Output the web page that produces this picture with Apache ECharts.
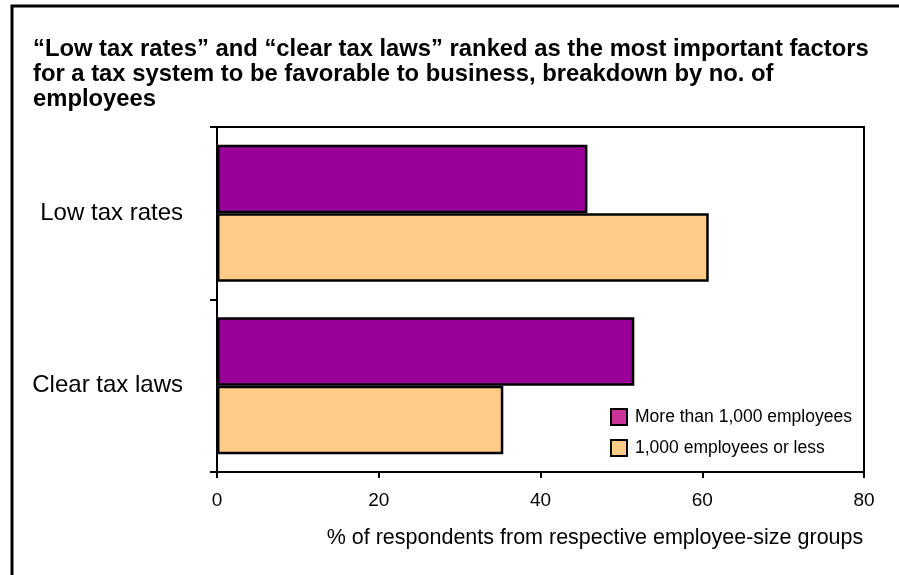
<!DOCTYPE html>
<html lang="en">
<head>
  <meta charset="UTF-8">
  <title>Tax system factors</title>
  <script src="https://cdn.jsdelivr.net/npm/echarts@6/dist/echarts.min.js"></script>
  <style>
    html, body { margin: 0; padding: 0; background: #fff; }
    #main { width: 899px; height: 575px; }
  </style>
</head>
<body>
<div id="main"></div>
<script>
  // data
  let categories = ['Low tax rates', 'Clear tax laws'];
  let seriesNames = ['More than 1,000 employees', '1,000 employees or less'];
  let bigFirms = [45.8, 51.6];
  let smallFirms = [60.8, 35.4];
  let xTicks = [0, 20, 40, 60, 80];

  let chart = echarts.init(document.getElementById('main'));

  let option = {
    backgroundColor: '#fff',
    animation: false,
    title: {
      text: '\u201cLow tax rates\u201d and \u201cclear tax laws\u201d ranked as the most important factors\nfor a tax system to be favorable to business, breakdown by no. of\nemployees',
      left: 28,
      top: 32,
      textStyle: {
        fontFamily: 'Liberation Sans',
        fontWeight: 'bold',
        fontSize: 23.8,
        lineHeight: 25,
        color: '#000'
      }
    },
    legend: {
      orient: 'vertical',
      left: 605,
      top: 403,
      itemWidth: 16,
      itemHeight: 16,
      itemGap: 13,
      icon: 'rect',
      textStyle: { fontFamily: 'Liberation Sans', fontSize: 17.5, color: '#000', padding: [0, 0, 0, 3] },
      data: [
        { name: seriesNames[0], itemStyle: { color: '#CC3399', borderColor: '#000', borderWidth: 2 } },
        { name: seriesNames[1], itemStyle: { color: '#FFCC88', borderColor: '#000', borderWidth: 2 } }
      ]
    },
    graphic: [{
      type: 'polyline',
      shape: { points: [[12, 575], [12, 6], [899, 6]] },
      style: { stroke: '#000', lineWidth: 3, fill: null }
    }],
    grid: {
      left: 217,
      right: 35,
      top: 127,
      bottom: 103,
      show: true,
      borderColor: '#000',
      borderWidth: 2
    },
    xAxis: {
      type: 'value',
      min: xTicks[0],
      max: xTicks[xTicks.length - 1],
      interval: 20,
      splitLine: { show: false },
      axisLine: { show: true, lineStyle: { color: '#000', width: 2 } },
      axisTick: { show: true, length: 6, lineStyle: { color: '#000', width: 2 } },
      axisLabel: { color: '#000', fontFamily: 'Liberation Sans', fontSize: 19, margin: 19 },
      name: '% of respondents from respective employee-size groups',
      nameLocation: 'middle',
      nameGap: 55,
      nameTextStyle: { color: '#000', fontFamily: 'Liberation Sans', fontSize: 21.5, padding: [0, 0, 0, 109] }
    },
    yAxis: {
      type: 'category',
      inverse: true,
      data: categories,
      axisLine: { show: true, lineStyle: { color: '#000', width: 2 } },
      axisTick: { show: true, length: 7, lineStyle: { color: '#000', width: 2 } },
      axisLabel: { color: '#000', fontFamily: 'Liberation Sans', fontSize: 24, margin: 34 }
    },
    series: [
      {
        name: seriesNames[0],
        type: 'bar',
        data: bigFirms,
        barGap: '0%',
        barCategoryGap: '20.6%',
        itemStyle: { color: '#990099', borderColor: '#000', borderWidth: 2.5 }
      },
      {
        name: seriesNames[1],
        type: 'bar',
        data: smallFirms,
        barGap: '0%',
        barCategoryGap: '20.6%',
        itemStyle: { color: '#FFCC88', borderColor: '#000', borderWidth: 2.5 }
      }
    ]
  };

  chart.setOption(option);
</script>
</body>
</html>
